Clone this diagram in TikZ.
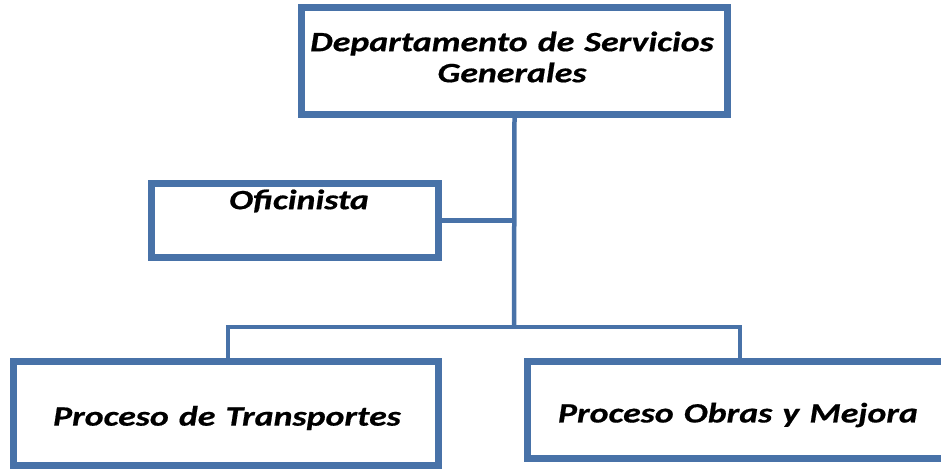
\documentclass[tikz,border=0pt]{standalone}
\usepackage{fontspec}
\usetikzlibrary{shadows}
\newfontfamily\boxfont[FakeStretch=1.28,WordSpace=1.25,FakeBold=0.6]{Carlito}
\definecolor{edgeblue}{RGB}{72,114,168}
\tikzset{
  orgbox/.style={draw=edgeblue, line width=7pt, fill=white, rectangle, inner sep=0pt,
    drop shadow={shadow xshift=2pt, shadow yshift=-2pt, opacity=0.35, fill=black!60}},
  orgtext/.style={font=\boxfont\bfseries\itshape\fontsize{28}{31}\selectfont, text=black, align=center, inner sep=0pt},
  link/.style={draw=edgeblue, line width=4.5pt}
}
\begin{document}
\begin{tikzpicture}[x=1pt,y=-1pt]
\useasboundingbox (0,0) rectangle (941,469);
% boxes
\node[orgbox, minimum width=426pt, minimum height=107pt] (top) at (514.5,61) {};
\node[orgbox, minimum width=287pt, minimum height=74pt] (ofi) at (295,220.5) {};
\node[orgbox, minimum width=425pt, minimum height=104pt] (left) at (226,413.5) {};
\node[orgbox, minimum width=422pt, minimum height=97pt] (right) at (738.5,410) {};
% texts
\node[orgtext] (ttop) at (512,57) {Departamento de Servicios\\Generales};
\node[orgtext] (tofi) at (299,201) {Oficinista};
\node[orgtext] (tleft) at (227,418) {Proceso de Transportes};
\node[orgtext] (tright) at (738,415) {Proceso Obras y Mejora};
% connectors
\coordinate (j) at (514,327);
\coordinate (lj) at (228,327);
\coordinate (rj) at (740,327);
\draw[link] (top.south) -- (j);
\draw[link] (ofi.east) -- (ofi.east -| j);
\draw[link] ([xshift=-2.25pt]lj) -- ([xshift=2.25pt]rj);
\draw[link] (lj) -- (lj |- left.north);
\draw[link] (rj) -- (rj |- right.north);
\end{tikzpicture}
\end{document}
